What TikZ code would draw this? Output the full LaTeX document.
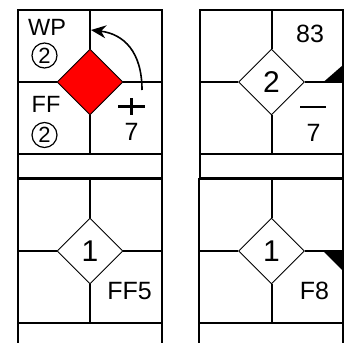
\documentclass[tikz,border=0pt]{standalone}
\usepackage{fontspec}
\setmainfont{Liberation Sans}
\usetikzlibrary{arrows.meta, shapes.geometric, positioning}

\begin{document}
\begin{tikzpicture}[x=1pt, y=-1pt,
    frame/.style={line width=2pt},
    bar/.style={line width=2.6pt},
    marker/.style={draw, diamond, line width=0.9pt, fill=white, minimum width=66pt, minimum height=66pt, inner sep=0pt, font=\fontsize{30}{30}\selectfont},
    txt/.style={inner sep=0pt, font=\fontsize{25}{25}\selectfont},
    small/.style={inner sep=0pt, font=\fontsize{23.5}{23.5}\selectfont},
    ring/.style={draw, circle, line width=1.2pt, minimum size=25pt, inner sep=0pt, font=\fontsize{22}{22}\selectfont}]

    \useasboundingbox (0,0) rectangle (344,342);
    \clip (0,0) rectangle (344,342);

    % Nodes
    \node (d1) at (90,82) [marker, fill=red] {};
    \node (d2) at (271.5,82) [marker] {2};
    \node (d3) at (90,251) [marker] {1};
    \node (d4) at (271.5,251) [marker] {1};

    \node (wp) at (47,27) [small] {WP};
    \node (wpnum) at (44.5,55.5) [ring] {2};
    \node (ff) at (46,104) [small] {FF};
    \node (ffnum) at (44.5,135) [ring] {2};
    \node (seven1) at (131.5,131.5) [txt] {7};
    \node (n83) at (310,34) [txt] {83};
    \node (seven2) at (313.5,133) [txt] {7};
    \node (ff5) at (129.5,291) [txt] {FF5};
    \node (f8) at (314.5,291) [txt] {F8};

    \coordinate (turnstart) at (142,90);
    \coordinate (turnend) at (91,30);

    % top left panel
    \draw[frame] (18,10) rectangle (162,177.5);
    \draw[frame] (18,154) -- (162,154);
    \draw[frame] (d1.north) -- (90,10);
    \draw[frame] (d1.south) -- (90,154);
    \draw[frame] (d1.west) -- (18,82);
    \draw[frame] (d1.east) -- (162,82);
    \draw[bar] (118,106.7) -- (145,106.7);
    \draw[bar] (131.5,98) -- (131.5,115);
    \draw[line width=1.6pt, -{Stealth[length=15pt,width=13pt]}] (turnstart) .. controls (142,52) and (124,34) .. (turnend);

    % top right panel
    \draw[frame] (200,10) rectangle (343,177.5);
    \draw[frame] (200,154) -- (343,154);
    \draw[frame] (d2.north) -- (271.5,10);
    \draw[frame] (d2.south) -- (271.5,154);
    \draw[frame] (d2.west) -- (200,82);
    \draw[frame] (d2.east) -- (343,82);
    \fill (323.5,82) -- (343,82) -- (343,65) -- cycle;
    \draw[bar] (300,107) -- (326,107);

    % bottom left panel
    \draw[frame] (18,350) -- (18,178.5) -- (162,178.5) -- (162,350);
    \draw[frame] (18,323) -- (162,323);
    \draw[frame] (d3.north) -- (90,178.5);
    \draw[frame] (d3.south) -- (90,323);
    \draw[frame] (d3.west) -- (18,251);
    \draw[frame] (d3.east) -- (162,251);

    % bottom right panel
    \draw[frame] (199,350) -- (199,178.5) -- (343,178.5) -- (343,350);
    \draw[frame] (199,323) -- (343,323);
    \draw[frame] (d4.north) -- (271.5,178.5);
    \draw[frame] (d4.south) -- (271.5,323);
    \draw[frame] (d4.west) -- (199,251);
    \draw[frame] (d4.east) -- (343,251);
    \fill (323,251) -- (343,251) -- (343,271) -- cycle;
\end{tikzpicture}
\end{document}
